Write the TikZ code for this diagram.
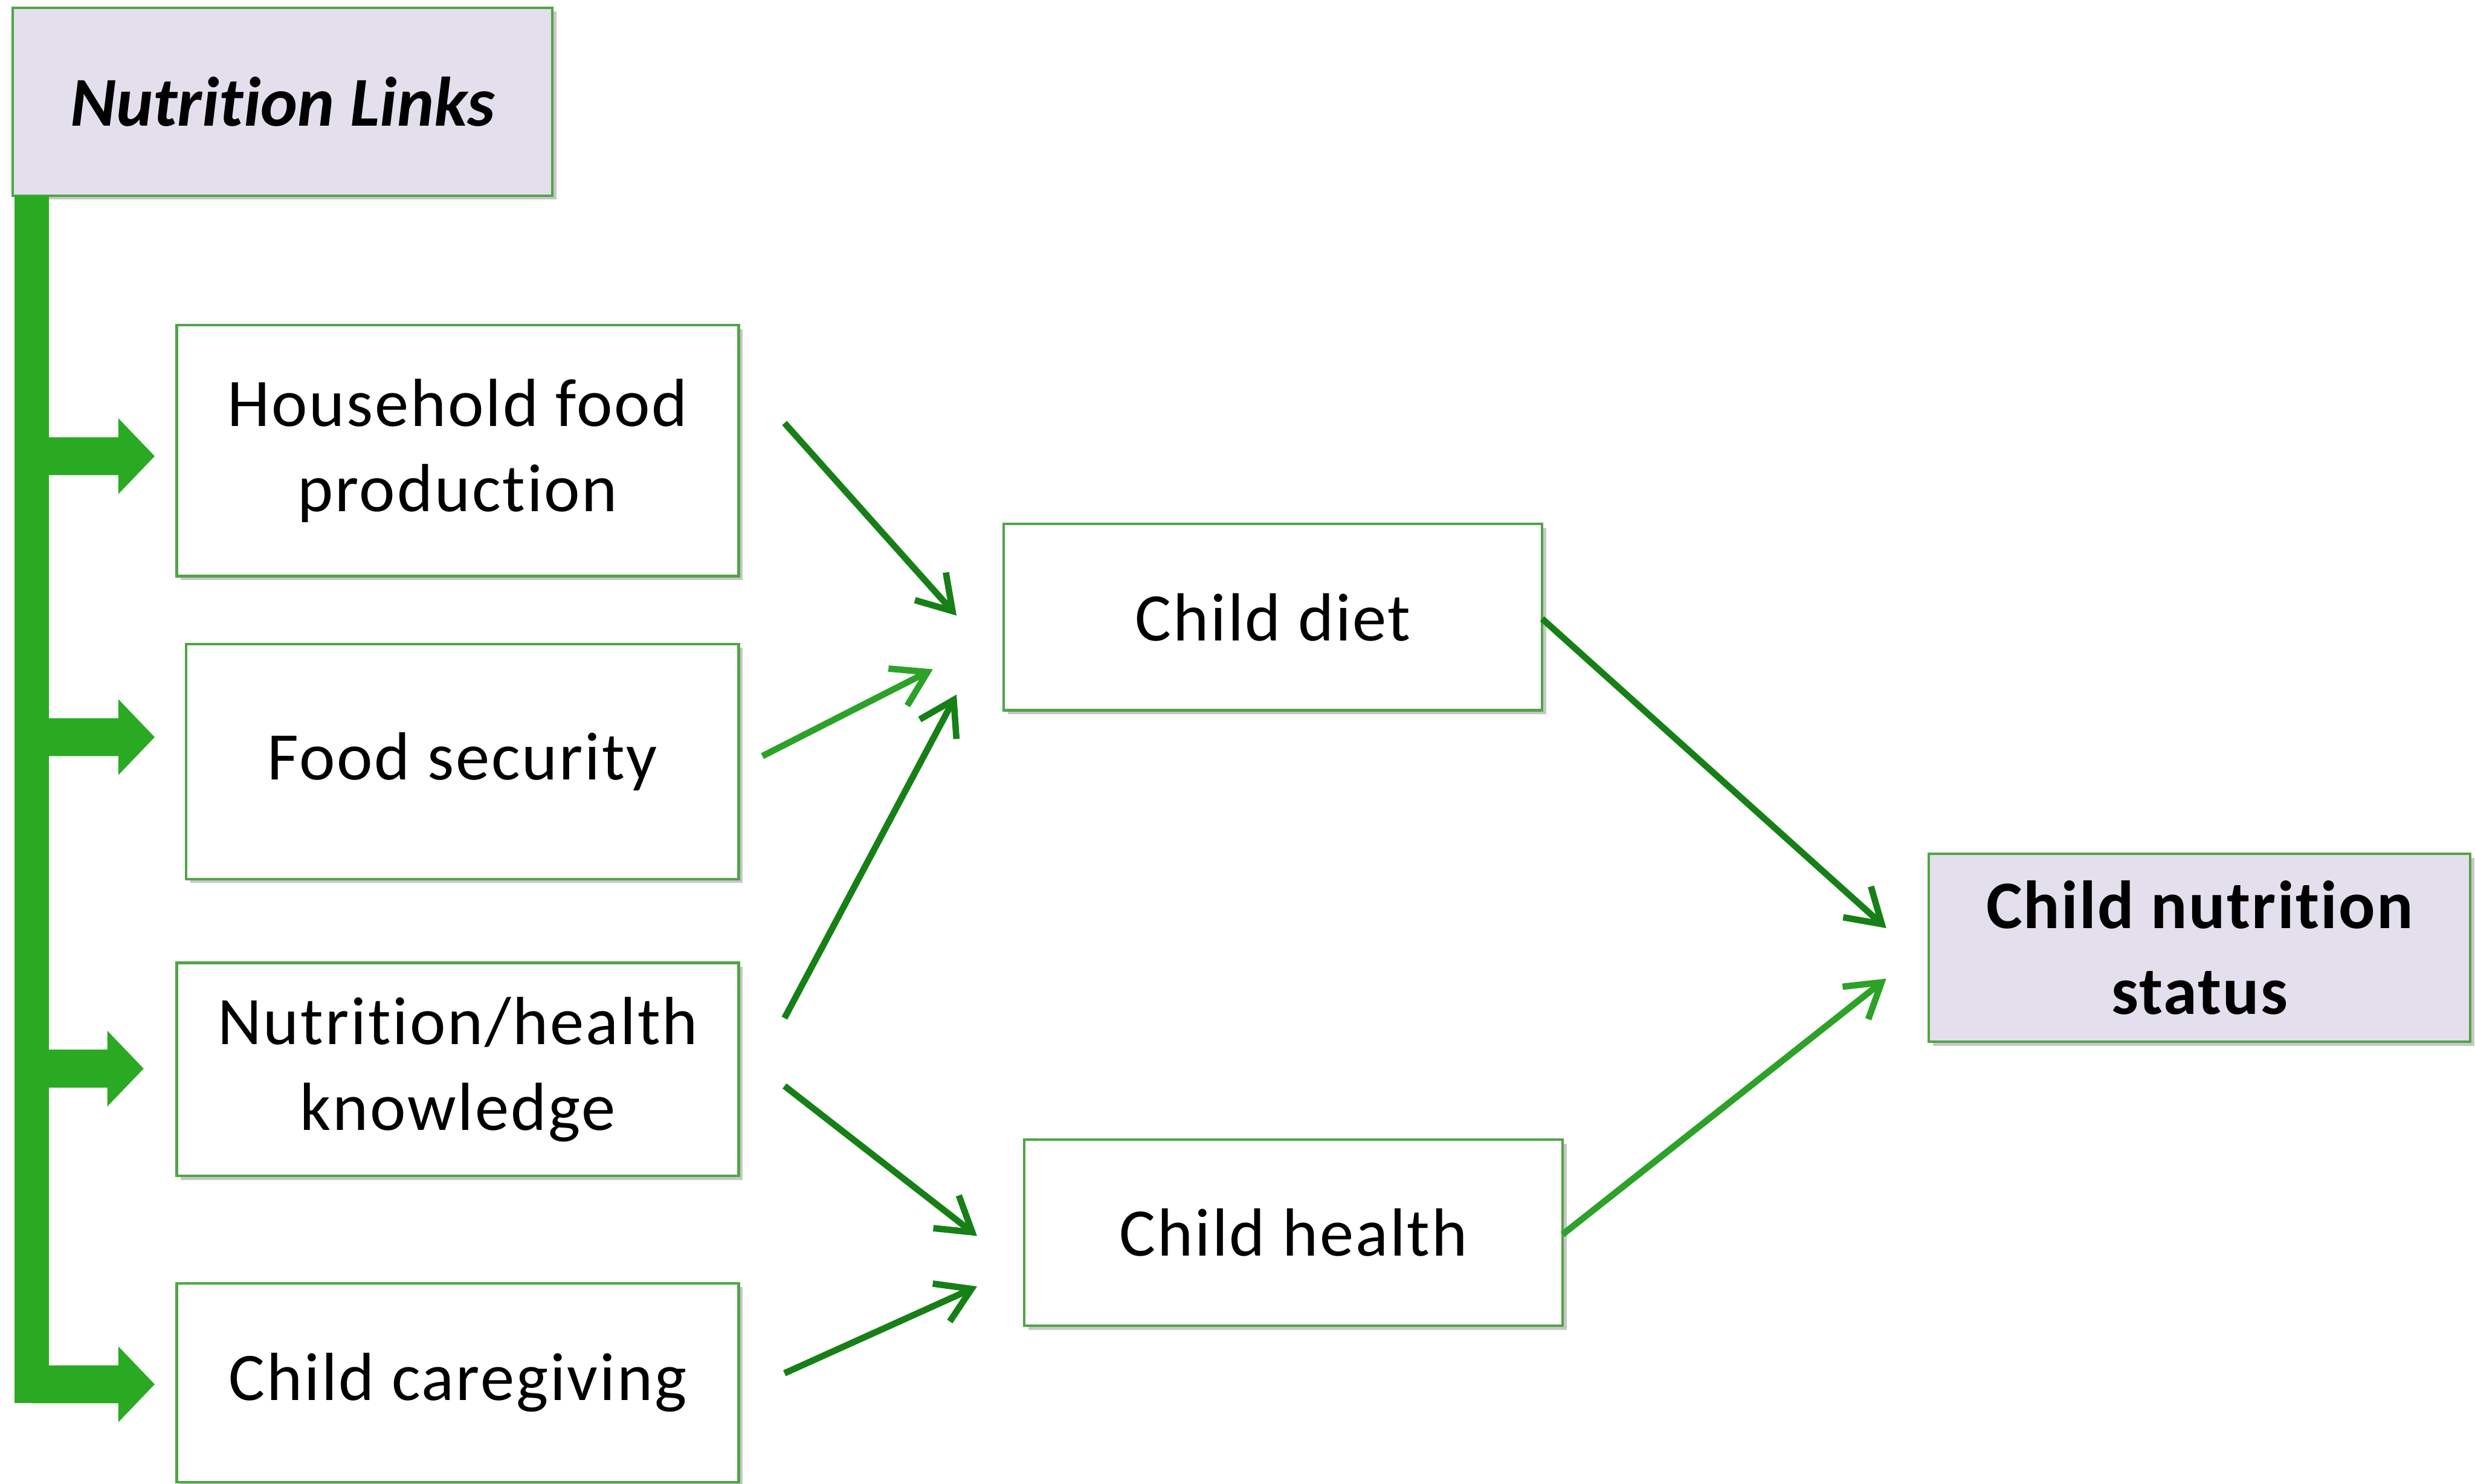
\documentclass[tikz,border=0pt]{standalone}
\usepackage{fontspec}
\setmainfont{Carlito}[Ligatures=NoCommon]
\usetikzlibrary{arrows.meta,shadows}
\definecolor{boxgreen}{RGB}{80,165,70}
\definecolor{lav}{RGB}{228,223,236}
\definecolor{bargreen}{RGB}{42,170,34}
\definecolor{darkarrow}{RGB}{22,128,22}
\definecolor{lightarrow}{RGB}{44,162,40}
\begin{document}
\begin{tikzpicture}[x=0.02852cm,y=-0.02852cm,
  box/.style={draw=boxgreen, line width=1.3pt, fill=white, inner sep=0pt, outer sep=0pt,
    align=center, font=\fontsize{35}{44}\selectfont\addfontfeatures{LetterSpace=2.5},
    drop shadow={shadow xshift=2pt,shadow yshift=-2pt,fill=black,opacity=0.22}},
  keybox/.style={box, fill=lav, font=\fontsize{35}{44}\selectfont\bfseries\addfontfeatures{LetterSpace=2}},
  thin/.style={draw=darkarrow, line width=3.3pt, -{Straight Barb[length=0.6cm,width=0.75cm]}},
  thinlight/.style={thin, draw=lightarrow},
  bigarrow/.style={fill=bargreen}
]
\useasboundingbox (0,0) rectangle (1568,940);

% main nodes
\node[keybox, minimum width=9.754cm, minimum height=3.394cm, font=\fontsize{36}{44}\selectfont\bfseries\itshape] (links) at (179,64.5) {Nutrition Links};
\node[box, minimum width=10.153cm, minimum height=4.535cm] (hfp) at (290,285.5) {Household food\\production};
\node[box, minimum width=9.982cm, minimum height=4.249cm] (fs) at (293,482.5) {Food security};
\node[box, minimum width=10.153cm, minimum height=3.850cm] (nhk) at (290,677.5) {Nutrition/health\\knowledge};
\node[box, minimum width=10.153cm, minimum height=3.594cm] (cc) at (290,876) {Child caregiving};
\node[box, minimum width=9.725cm, minimum height=3.365cm] (cd) at (806.5,391) {Child diet};
\node[box, minimum width=9.725cm, minimum height=3.365cm] (ch) at (819.5,781) {Child health};
\node[keybox, minimum width=9.782cm, minimum height=3.394cm] (cns) at (1393.5,600.5) {Child nutrition\\status};

% thick green bar with branch arrows
\fill[bargreen] (9,124) rectangle (31,889);
\foreach \yy/\tip in {289/98, 467/98, 677/91, 877/98}{
  \fill[bargreen] (20,\yy-12) -- (\tip-23,\yy-12) -- (\tip-23,\yy-24) -- (\tip,\yy)
     -- (\tip-23,\yy+24) -- (\tip-23,\yy+12) -- (20,\yy+12) -- cycle;
}

% connector end points
\coordinate (a1s) at (497,268); \coordinate (a1e) at (606,390);
\coordinate (a2s) at (483,479); \coordinate (a2e) at (591,424);
\coordinate (a3s) at (497,645); \coordinate (a3e) at (606,440);
\coordinate (a4s) at (497,688); \coordinate (a4e) at (619,783);
\coordinate (a5s) at (497,870); \coordinate (a5e) at (619,815);
\coordinate (a6s) at (977,392); \coordinate (a6e) at (1195,588);
\coordinate (a7s) at (990,782); \coordinate (a7e) at (1195,620);

\draw[thin] (a1s) -- (a1e);
\draw[thinlight] (a2s) -- (a2e);
\draw[thin] (a3s) -- (a3e);
\draw[thin] (a4s) -- (a4e);
\draw[thin] (a5s) -- (a5e);
\draw[thin] (a6s) -- (a6e);
\draw[thinlight] (a7s) -- (a7e);
\end{tikzpicture}
\end{document}
